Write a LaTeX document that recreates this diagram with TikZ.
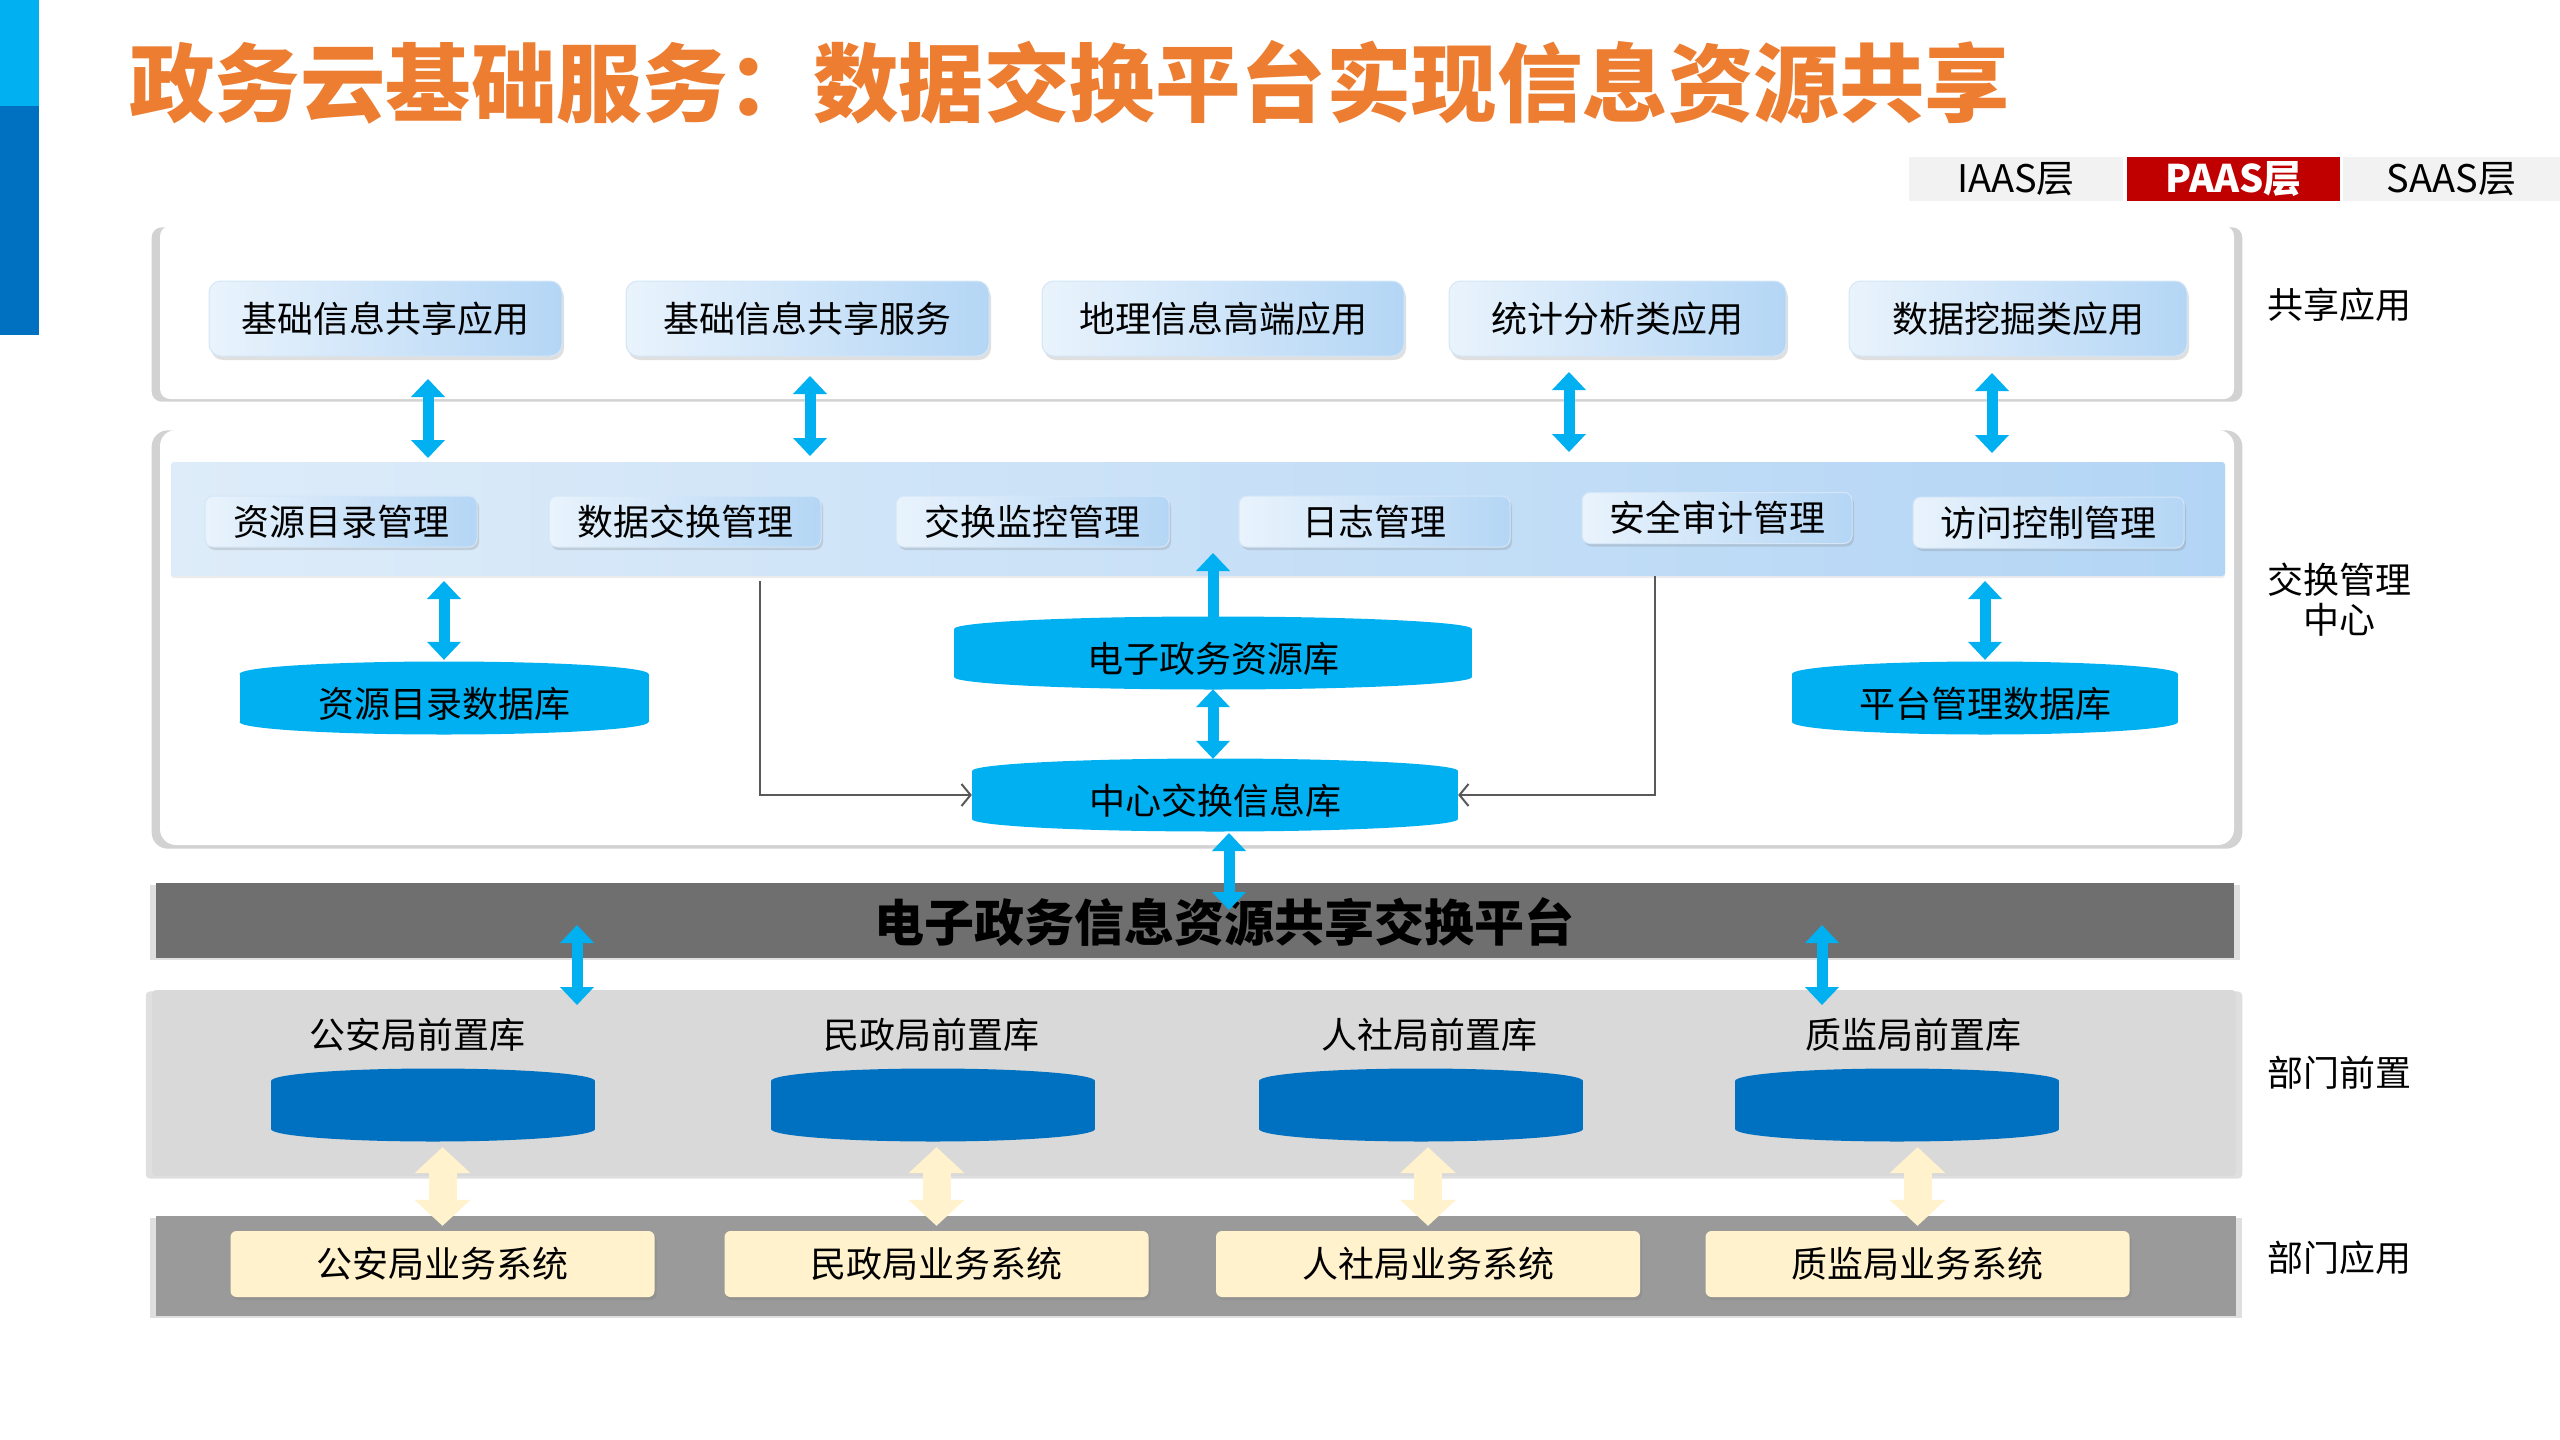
\documentclass[tikz,border=0pt]{standalone}
\usepackage{fontspec}
\setmainfont{Noto Sans CJK SC}
\usetikzlibrary{arrows.meta,shadows}
\definecolor{orangeT}{HTML}{ED7D31}
\definecolor{cyanA}{HTML}{00B0F0}
\definecolor{blueD}{HTML}{0070C0}
\definecolor{creamA}{HTML}{FFF2CC}
\definecolor{grayPlat}{HTML}{6F6F6F}
\definecolor{grayApp}{HTML}{9A9A9A}
\definecolor{grayPre}{HTML}{D9D9D9}
\definecolor{tabGray}{HTML}{F2F2F2}
\definecolor{tabRed}{HTML}{C00000}
\definecolor{boxL}{HTML}{E9F3FC}
\definecolor{boxR}{HTML}{B4D6F5}
\definecolor{boxE}{HTML}{D4E6F7}
\definecolor{bandL}{HTML}{DEECF9}
\definecolor{bandR}{HTML}{B3D5F5}
\definecolor{lineG}{HTML}{595959}
\newcommand\fsz[1]{\fontsize{#1pt}{#1pt}\selectfont}
\tikzset{
  panelw/.style={fill=white, rounded corners=#1, inner sep=0pt,
    drop shadow={shadow xshift=0pt, shadow yshift=-2pt, shadow scale=1.008, opacity=.35}},
  flatpanel/.style={inner sep=0pt,
    drop shadow={shadow xshift=0pt, shadow yshift=-2pt, shadow scale=1.006, opacity=.25}},
  appbox/.style={rounded corners=12pt, left color=boxL, right color=boxR, draw=boxE,
    line width=1pt, minimum height=75pt, inner sep=0pt, font=\fsz{36}, text=black,
    drop shadow={shadow xshift=2pt, shadow yshift=-4pt, opacity=.25}},
  mgbox/.style={rounded corners=8pt, left color=boxL, right color=boxR, draw=boxE,
    line width=1pt, minimum height=51pt, inner sep=0pt, font=\fsz{36}, text=black,
    drop shadow={shadow xshift=2pt, shadow yshift=-3pt, opacity=.25}},
  sysbox/.style={rounded corners=6pt, fill=creamA, minimum width=424pt, minimum height=66pt,
    inner sep=0pt, font=\fsz{36}, text=black,
    drop shadow={shadow xshift=2pt, shadow yshift=-3pt, opacity=.3}},
  dbtext/.style={inner sep=0pt, minimum height=72pt, font=\fsz{36}, text=black},
  sidelbl/.style={font=\fsz{36}, align=center, text=black, inner sep=0pt},
  tabbox/.style={minimum height=44pt, inner sep=0pt, font=\fsz{38}},
  barrow/.style={draw=cyanA, line width=11pt,
    arrows={Triangle[width=34pt,length=18pt,line width=0pt]-Triangle[width=34pt,length=18pt,line width=0pt]}},
  uarrow/.style={draw=cyanA, line width=11pt,
    arrows={-Triangle[width=34pt,length=18pt,line width=0pt]}},
  carrow/.style={draw=creamA, line width=28pt,
    arrows={Triangle[width=56pt,length=26pt,line width=0pt]-Triangle[width=56pt,length=26pt,line width=0pt]}},
  conn/.style={draw=lineG, line width=2pt, arrows={-Straight Barb[length=9pt,width=22pt]}}
}
% cylinder: name, x, y, width, colour, text
\newcommand\dbcyl[6]{%
  \fill[#5] (#2-#4/2,#3-24) rectangle (#2+#4/2,#3+24);
  \fill[#5] (#2,#3-24) ellipse [x radius=#4/2, y radius=12.5];
  \fill[#5] (#2,#3+24) ellipse [x radius=#4/2, y radius=12.5];
  \node[dbtext, minimum width=#4pt] (#1) at (#2,#3) {};
  \node[dbtext] (#1t) at (#2,#3+6) {#6};
}
\begin{document}
\begin{tikzpicture}[x=1pt,y=-1pt]
\useasboundingbox (0,0) rectangle (2560,1440);
\fill[white] (0,0) rectangle (2560,1440);

% left bar
\fill[cyanA] (0,0) rectangle (39,106);
\fill[blueD] (0,106) rectangle (39,335);

% title
\node[anchor=west, inner sep=0pt, text=orangeT, font=\fsz{85.5}\bfseries] (title) at (129,82)
  {政务云基础服务：数据交换平台实现信息资源共享};

% tabs
\node[tabbox, fill=tabGray, minimum width=214pt, text=black] (tab1) at (2016,179) {IAAS层};
\node[tabbox, fill=tabRed, minimum width=213pt, text=white, font=\fsz{38}\bfseries] (tab2) at (2233.5,179) {PAAS层};
\node[tabbox, fill=tabGray, minimum width=217pt, text=black] (tab3) at (2451.5,179) {SAAS层};

% panels
\node[panelw=10pt, minimum width=2074pt, minimum height=173pt] (top) at (1197,312.5) {};
\node[panelw=16pt, minimum width=2074pt, minimum height=415pt] (mid) at (1197,637.5) {};
\node[inner sep=0pt, rounded corners=3pt, left color=bandL, right color=bandR,
  minimum width=2054pt, minimum height=114pt,
  drop shadow={shadow xshift=0pt, shadow yshift=-2pt, opacity=.15}] (band) at (1198,519) {};
\node[flatpanel, fill=grayPlat, minimum width=2078pt, minimum height=75pt] (plat) at (1195,920.5) {};
\node[flatpanel, fill=grayPre, rounded corners=4pt, minimum width=2084pt, minimum height=186pt] (prep) at (1194,1083) {};
\node[flatpanel, fill=grayApp, minimum width=2080pt, minimum height=100pt] (appp) at (1196,1266) {};

% shared applications
\node[appbox, minimum width=353pt] (app1) at (385.5,318.5) {基础信息共享应用};
\node[appbox, minimum width=363pt] (app2) at (807.5,318.5) {基础信息共享服务};
\node[appbox, minimum width=362pt] (app3) at (1223,318.5) {地理信息高端应用};
\node[appbox, minimum width=337pt] (app4) at (1617.5,318.5) {统计分析类应用};
\node[appbox, minimum width=338pt] (app5) at (2018,318.5) {数据挖掘类应用};

% management boxes
\node[mgbox, minimum width=272pt] (m1) at (341,521.5) {资源目录管理};
\node[mgbox, minimum width=272pt] (m2) at (685,521.5) {数据交换管理};
\node[mgbox, minimum width=273pt] (m3) at (1032.5,521.5) {交换监控管理};
\node[mgbox, minimum width=271pt] (m4) at (1374.5,521.5) {日志管理};
\node[mgbox, minimum width=270pt] (m5) at (1717,518) {安全审计管理};
\node[mgbox, minimum width=271pt] (m6) at (2048.5,522.5) {访问控制管理};

% databases
\dbcyl{rdb}{444}{698}{409}{cyanA}{资源目录数据库}
\dbcyl{egov}{1213}{653}{518}{cyanA}{电子政务资源库}
\dbcyl{hub}{1215}{795}{486}{cyanA}{中心交换信息库}
\dbcyl{pdb}{1985}{698}{386}{cyanA}{平台管理数据库}

% platform text
\node[inner sep=0pt, font=\fsz{50}\bfseries, text=black] (platt) at (1224,922) {电子政务信息资源共享交换平台};

% front databases
\node[sidelbl] (l1) at (417,1035) {公安局前置库};
\node[sidelbl] (l2) at (931,1035) {民政局前置库};
\node[sidelbl] (l3) at (1429,1035) {人社局前置库};
\node[sidelbl] (l4) at (1913,1035) {质监局前置库};
\dbcyl{pre1}{433}{1105}{324}{blueD}{}
\dbcyl{pre2}{933}{1105}{324}{blueD}{}
\dbcyl{pre3}{1421}{1105}{324}{blueD}{}
\dbcyl{pre4}{1897}{1105}{324}{blueD}{}

% business systems
\node[sysbox] (sys1) at (442.5,1264) {公安局业务系统};
\node[sysbox] (sys2) at (936.5,1264) {民政局业务系统};
\node[sysbox] (sys3) at (1428,1264) {人社局业务系统};
\node[sysbox] (sys4) at (1917.5,1264) {质监局业务系统};

% side labels
\node[sidelbl] (s1) at (2339,305) {共享应用};
\node[sidelbl] (s2) at (2339,600) {交换管理\\[4pt]中心};
\node[sidelbl] (s3) at (2339,1073) {部门前置};
\node[sidelbl] (s4) at (2339,1258) {部门应用};

% arrow end coordinates
\coordinate (c1a) at (428,379);  \coordinate (c1b) at (428,458);
\coordinate (c2a) at (810,376);  \coordinate (c2b) at (810,456);
\coordinate (c3a) at (1569,372); \coordinate (c3b) at (1569,452);
\coordinate (c4a) at (1992,373); \coordinate (c4b) at (1992,453);
\coordinate (c5) at (444,581);
\coordinate (c6) at (1213,553);
\coordinate (c8a) at (1229,833); \coordinate (c8b) at (1229,910);
\coordinate (c9) at (1985,581);
\coordinate (c10a) at (577,925); \coordinate (c10b) at (577,1005);
\coordinate (c11a) at (1822,925); \coordinate (c11b) at (1822,1005);
\coordinate (gl) at (760,581);
\coordinate (gr) at (1655,576);

% blue arrows
\draw[barrow] (c1a) -- (c1b);
\draw[barrow] (c2a) -- (c2b);
\draw[barrow] (c3a) -- (c3b);
\draw[barrow] (c4a) -- (c4b);
\draw[barrow, shorten >=2pt] (c5) -- (rdb.north);
\draw[uarrow] (egov.north) -- (c6);
\draw[barrow] (egov.south) -- (egov.south |- hub.north);
\draw[barrow] (c8a) -- (c8b);
\draw[barrow, shorten >=2pt] (c9) -- (pdb.north);
\draw[barrow] (c10a) -- (c10b);
\draw[barrow] (c11a) -- (c11b);

% grey connectors
\draw[conn] (gl) |- (hub.west);
\draw[conn] (gr) |- (hub.east);

% cream arrows
\draw[carrow, shorten <=6pt, shorten >=5pt] (sys1.north |- pre1.south) -- (sys1.north);
\draw[carrow, shorten <=6pt, shorten >=5pt] (sys2.north |- pre2.south) -- (sys2.north);
\draw[carrow, shorten <=6pt, shorten >=5pt] (sys3.north |- pre3.south) -- (sys3.north);
\draw[carrow, shorten <=6pt, shorten >=5pt] (sys4.north |- pre4.south) -- (sys4.north);
\end{tikzpicture}
\end{document}
